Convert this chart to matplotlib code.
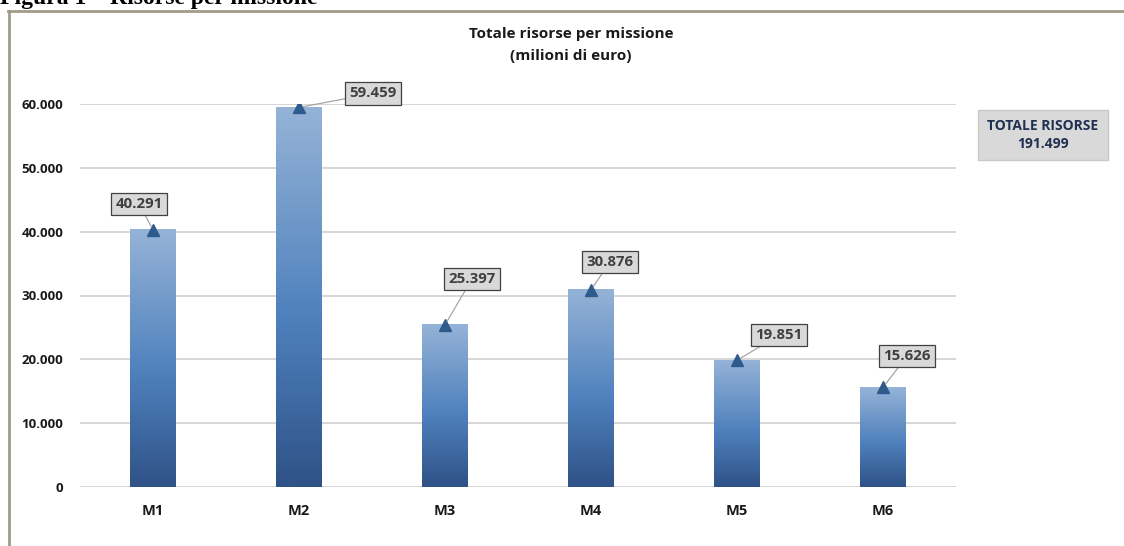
import numpy as np
import matplotlib.pyplot as plt
from matplotlib.colors import LinearSegmentedColormap
from matplotlib.lines import Line2D

missioni = ["M1", "M2", "M3", "M4", "M5", "M6"]
risorse = [40291, 59459, 25397, 30876, 19851, 15626]
totale = 191499

# label box offsets from the bar top, in pixels
label_offsets = [(-14, 26), (74, 14), (27, 46), (19, 28), (42, 25), (24, 31)]

def fmt_it(v):
    return f"{v:,.0f}".replace(",", ".")

plt.rcParams['font.family'] = ['Open Sans', 'DejaVu Sans']

fig = plt.figure(figsize=(11.24, 5.46), dpi=100)
W, H = 1124, 546
ax = fig.add_axes([80 / W, 1 - 487 / H, 876 / W, 383 / H])

grad = LinearSegmentedColormap.from_list(
    "bar", [(0, "#2f5287"), (0.45, "#4f81bd"), (1, "#95b3d7")])
g = np.linspace(0, 1, 256).reshape(-1, 1)
bw = 0.315

x = np.arange(len(missioni))
for i, v in zip(x, risorse):
    ax.imshow(g, cmap=grad, aspect='auto', origin='lower',
              extent=(i - bw / 2, i + bw / 2, 0, v), zorder=2)

ax.plot(x, risorse, linestyle='none', marker='^', markersize=8,
        color='#2e5a8c', zorder=4)

for i, v in enumerate(risorse):
    dx, dy = label_offsets[i]
    ax.annotate(fmt_it(v), xy=(i, v), xytext=(dx, dy),
                textcoords='offset pixels', ha='center', va='center',
                fontsize=10.8, fontweight='bold', color='#404040',
                bbox=dict(boxstyle='square,pad=0.28', fc='#d9d9d9',
                          ec='#404040', lw=0.9),
                arrowprops=dict(arrowstyle='-', color='#a6a6a6', lw=0.9,
                                shrinkA=0, shrinkB=3),
                annotation_clip=False, zorder=5)

ax.set_xlim(-0.5, len(missioni) - 0.5)
ax.set_ylim(0, 60000)
ax.set_yticks(np.arange(0, 60001, 10000))
ax.set_yticklabels([fmt_it(t) for t in np.arange(0, 60001, 10000)])
ax.set_xticks(x)
ax.set_xticklabels(missioni)
ax.grid(axis='y', color='#d0d0d0', lw=1.2, zorder=0)
ax.set_axisbelow(True)
for s in ax.spines.values():
    s.set_visible(False)
ax.tick_params(length=0)
ax.tick_params(axis='y', pad=12, labelsize=9.5, labelcolor='#1a1a1a')
ax.tick_params(axis='x', pad=12, labelsize=10.5, labelcolor='#1a1a1a')
for lab in ax.get_xticklabels() + ax.get_yticklabels():
    lab.set_fontweight('bold')

fig.text(571 / W, 1 - 45 / H, "Totale risorse per missione\n(milioni di euro)",
         ha='center', va='center', fontsize=11, fontweight='bold',
         color='#1a1a1a', linespacing=1.65)

fig.text(1043 / W, 1 - 135 / H, "TOTALE RISORSE\n" + fmt_it(totale),
         ha='center', va='center', fontsize=10, fontweight='bold',
         color='#1f3050', linespacing=1.3,
         bbox=dict(boxstyle='square,pad=0.7', fc='#d9d9d9', ec='#c8c8c8', lw=1))

# outer frame (top and left edges)
fig.add_artist(Line2D([8 / W, 1], [1 - 10.5 / H, 1 - 10.5 / H],
                      color='#a09c88', lw=2, transform=fig.transFigure))
fig.add_artist(Line2D([8.5 / W, 8.5 / W], [0, 1 - 10.5 / H],
                      color='#a09c88', lw=2, transform=fig.transFigure))

fig.text(0.0, 1 - 4 / H, "Figura 1 \u2013 Risorse per missione",
         ha='left', va='baseline', fontsize=17, fontweight='bold',
         family='Liberation Serif', color='black')

fig.savefig("out.png", dpi=100)
